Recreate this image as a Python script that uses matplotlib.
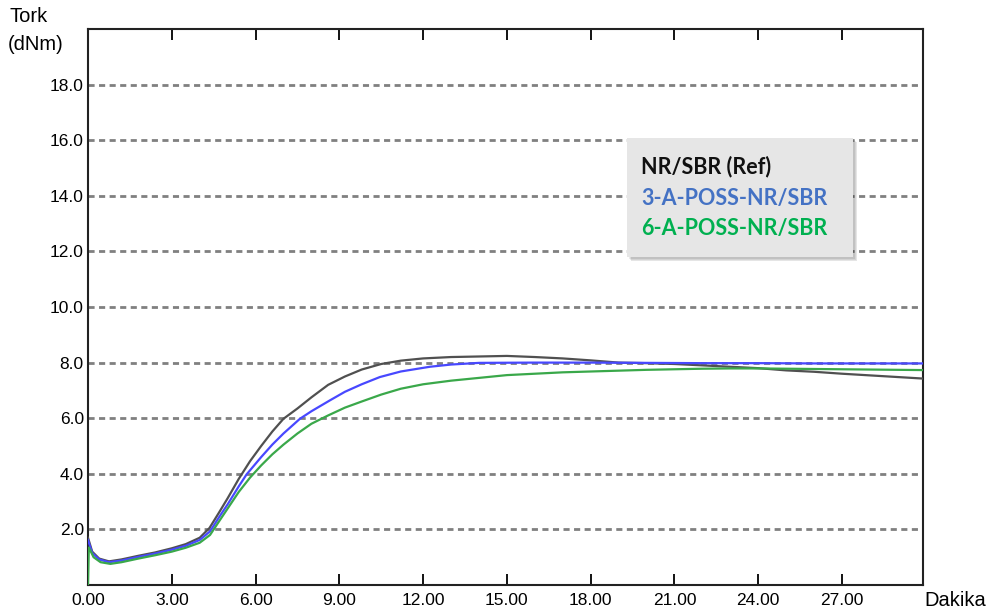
import matplotlib
matplotlib.use("Agg")
import matplotlib.pyplot as plt
from matplotlib.patches import Rectangle

# ---- data ----
ref_t = [0, 0.15, 0.4, 0.75, 1.2, 1.8, 2.4, 3.0, 3.5, 4.0, 4.35, 4.7, 5.0, 5.4, 5.8, 6.2, 6.6, 7.0,
         7.5, 8.0, 8.6, 9.2, 9.8, 10.5, 11.2, 12.0, 13.0, 14.0, 15.0, 16.0, 17.0, 18.0, 19.0, 20.0,
         21.0, 22.0, 23.0, 24.0, 25.0, 26.0, 27.0, 28.0, 29.0, 30.0]
ref_v = [1.70, 1.20, 0.95, 0.85, 0.92, 1.05, 1.17, 1.32, 1.47, 1.70, 2.05, 2.62, 3.12, 3.82, 4.45,
         5.00, 5.52, 5.98, 6.35, 6.75, 7.20, 7.50, 7.75, 7.95, 8.07, 8.15, 8.20, 8.22, 8.24, 8.20,
         8.15, 8.08, 8.00, 7.98, 7.95, 7.90, 7.85, 7.80, 7.72, 7.67, 7.60, 7.54, 7.48, 7.42]

p3_t = [0, 0.15, 0.4, 0.75, 1.2, 1.8, 2.4, 3.0, 3.5, 4.0, 4.37, 4.7, 5.0, 5.4, 5.68, 6.2, 6.6, 7.0,
        7.59, 8.0, 8.66, 9.2, 9.8, 10.45, 11.2, 12.24, 13.0, 14.0, 16.0, 18.0, 20.0, 22.0, 24.0,
        26.0, 28.0, 30.0]
p3_v = [1.62, 1.15, 0.92, 0.82, 0.88, 1.01, 1.13, 1.27, 1.41, 1.62, 1.93, 2.45, 2.90, 3.55, 3.98,
        4.60, 5.05, 5.45, 5.98, 6.25, 6.64, 6.95, 7.22, 7.48, 7.68, 7.85, 7.93, 7.99, 8.00, 8.00,
        7.99, 7.98, 7.98, 7.97, 7.97, 7.97]

p6_t = [0, 0.03, 0.2, 0.45, 0.8, 1.2, 1.8, 2.4, 3.0, 3.5, 4.0, 4.37, 4.7, 5.0, 5.4, 5.8, 6.2, 6.6,
        7.0, 7.5, 8.0, 8.6, 9.2, 9.8, 10.5, 11.2, 12.0, 13.0, 14.0, 15.0, 16.0, 17.0, 18.0, 19.0,
        20.0, 21.0, 22.0, 23.0, 24.0, 25.0, 26.0, 27.0, 28.0, 29.0, 30.0]
p6_v = [0.0, 1.35, 1.00, 0.82, 0.76, 0.82, 0.95, 1.07, 1.20, 1.34, 1.52, 1.80, 2.30, 2.75, 3.35,
        3.86, 4.30, 4.70, 5.05, 5.45, 5.80, 6.10, 6.38, 6.60, 6.85, 7.06, 7.22, 7.35, 7.45, 7.55,
        7.60, 7.65, 7.68, 7.71, 7.74, 7.76, 7.78, 7.79, 7.79, 7.78, 7.77, 7.76, 7.75, 7.74, 7.73]

series_names = ["NR/SBR (Ref)", "3-A-POSS-NR/SBR", "6-A-POSS-NR/SBR"]
x_ticks = [0, 3, 6, 9, 12, 15, 18, 21, 24, 27]
x_tick_labels = ["0.00", "3.00", "6.00", "9.00", "12.00", "15.00", "18.00", "21.00", "24.00", "27.00"]
y_ticks = [2, 4, 6, 8, 10, 12, 14, 16, 18]
y_tick_labels = ["2.0", "4.0", "6.0", "8.0", "10.0", "12.0", "14.0", "16.0", "18.0"]

# ---- figure ----
plt.rcParams['font.family'] = ['Liberation Sans', 'DejaVu Sans']
fig = plt.figure(figsize=(9.9, 6.16), dpi=100)
ax = fig.add_axes([88/990, 1-585/616, (923-88)/990, (585-29)/616])

ax.set_xlim(0, 29.9)
ax.set_ylim(0, 20)

for y in y_ticks:
    ax.axhline(y, color='#808080', lw=2.0, linestyle=(0, (2.2, 1.6)), zorder=1)

ax.plot(ref_t, ref_v, color='#505050', lw=1.6, zorder=3)
ax.plot(p3_t, p3_v, color='#4848ff', lw=1.6, zorder=4)
ax.plot(p6_t, p6_v, color='#3aa84a', lw=1.6, zorder=5)

ax.set_xticks(x_ticks)
ax.set_xticklabels(x_tick_labels)
ax.set_yticks(y_ticks)
ax.set_yticklabels(y_tick_labels)
ax.tick_params(axis='x', direction='in', length=8, width=1.3, top=True, labelsize=12.5,
               colors='black', pad=6)
ax.tick_params(axis='y', length=0, labelsize=12.5, pad=3)
for sp in ax.spines.values():
    sp.set_linewidth(1.5)
    sp.set_color('#222222')

fig.text(10/990, 1-16/616, "Tork", fontsize=14.5, va='center', ha='left')
fig.text(8/990, 1-44/616, "(dNm)", fontsize=14.5, va='center', ha='left')
fig.text(924/990, 1-601/616, "Dakika", fontsize=14.5, va='center', ha='left')

# legend-like box with shadow
x0, x1 = (627-88)/835, (853-88)/835
y0, y1 = (585-257)/556, (585-138)/556
for i, a in enumerate([0.08, 0.08, 0.1]):
    off = (i + 2)
    ax.add_patch(Rectangle((x0 + off/835, y0 - off/556), x1 - x0, y1 - y0, transform=ax.transAxes,
                           facecolor='black', alpha=a, edgecolor='none', zorder=6))
ax.add_patch(Rectangle((x0, y0), x1 - x0, y1 - y0, transform=ax.transAxes,
                       facecolor='#e6e6e6', edgecolor='none', zorder=7))
leg_colors = ['#111111', '#4472c4', '#00b050']
leg_y = [(585-167)/556, (585-198)/556, (585-229)/556]
for name, c, yy in zip(series_names, leg_colors, leg_y):
    ax.text((641-88)/835, yy, name, transform=ax.transAxes, color=c, fontsize=15.5,
            fontweight='bold', family=['Lato', 'DejaVu Sans'], va='center', ha='left', zorder=8)

fig.savefig("out.png", dpi=100)
